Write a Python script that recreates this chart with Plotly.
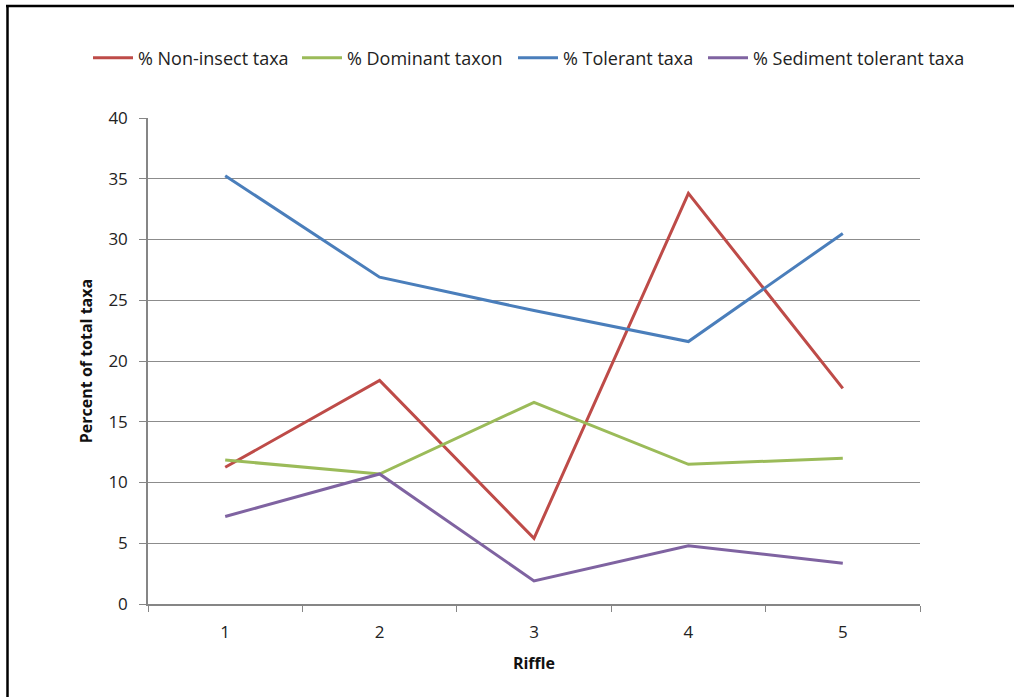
import plotly.graph_objects as go

# Riffle sampling results
riffles = ["1", "2", "3", "4", "5"]
non_insect = [11.25, 18.4, 5.4, 33.8, 17.75]
dominant = [11.85, 10.7, 16.6, 11.5, 12.0]
tolerant = [35.25, 26.9, 24.15, 21.6, 30.5]
sediment_tolerant = [7.2, 10.7, 1.9, 4.8, 3.35]

series_names = ["% Non-insect taxa", "% Dominant taxon", "% Tolerant taxa", "% Sediment tolerant taxa"]
series_colors = ["#BE4B48", "#9BBB59", "#4A7EBB", "#7F63A1"]
y_ticks = [0, 5, 10, 15, 20, 25, 30, 35, 40]

W, H = 1014, 697
L, R, T, B = 148, 94, 118, 93
plot_w, plot_h = W - L - R, H - T - B

# left edge (px) of each legend entry, laid out in one row above the plot
legend_left_px = [88, 297, 513, 703]
legend_ids = ["legend", "legend2", "legend3", "legend4"]


def px_x(px):
    return (px - L) / plot_w


def px_y(py):
    return (H - B - py) / plot_h


fig = go.Figure()
for name, vals, col, lid in zip(series_names,
                                [non_insect, dominant, tolerant, sediment_tolerant],
                                series_colors, legend_ids):
    fig.add_trace(go.Scatter(x=riffles, y=vals, name=name, mode="lines",
                             line=dict(color=col, width=3), legend=lid))

tick_font = dict(family="Open Sans, sans-serif", size=17, color="#222222")
title_font = dict(family="Open Sans, sans-serif", size=16, color="#111111")
legend_font = dict(family="Open Sans, sans-serif", size=18, color="#222222")

legend_layouts = {}
for lid, left in zip(legend_ids, legend_left_px):
    legend_layouts[lid] = dict(orientation="h", xref="container", yref="container",
                               x=left / W, xanchor="left",
                               y=1 - 58 / H, yanchor="middle",
                               font=legend_font, itemwidth=40,
                               bgcolor="rgba(0,0,0,0)")

fig.update_layout(
    width=W, height=H,
    margin=dict(l=L, r=R, t=T, b=B),
    paper_bgcolor="white", plot_bgcolor="white",
    showlegend=True,
    **legend_layouts,
    xaxis=dict(type="category", range=[-0.5, 4.5], tickson="boundaries",
               ticks="outside", ticklen=6, tickcolor="#868686",
               showline=True, linecolor="#868686", linewidth=1.5,
               showgrid=False, zeroline=False, tickfont=tick_font,
               ticklabelstandoff=12,
               title=dict(text="<b>Riffle</b>", standoff=16, font=title_font)),
    yaxis=dict(range=[0, 40], tickvals=y_ticks, ticks="outside", ticklen=7,
               tickcolor="#868686", showline=True, linecolor="#868686", linewidth=1.5,
               showgrid=True, gridcolor="#8C8C8C", gridwidth=1.2, zeroline=False,
               tickfont=tick_font, ticklabelstandoff=8,
               title=dict(text="<b>Percent of total taxa</b>", standoff=12, font=title_font)),
    shapes=[
        # outer frame: top and left edges
        dict(type="line", xref="paper", yref="paper", x0=px_x(6), x1=px_x(1014),
             y0=px_y(6), y1=px_y(6), line=dict(color="black", width=2.5)),
        dict(type="line", xref="paper", yref="paper", x0=px_x(7.5), x1=px_x(7.5),
             y0=px_y(5), y1=px_y(697), line=dict(color="black", width=2.5)),
    ],
)

fig.write_html("out.html")
